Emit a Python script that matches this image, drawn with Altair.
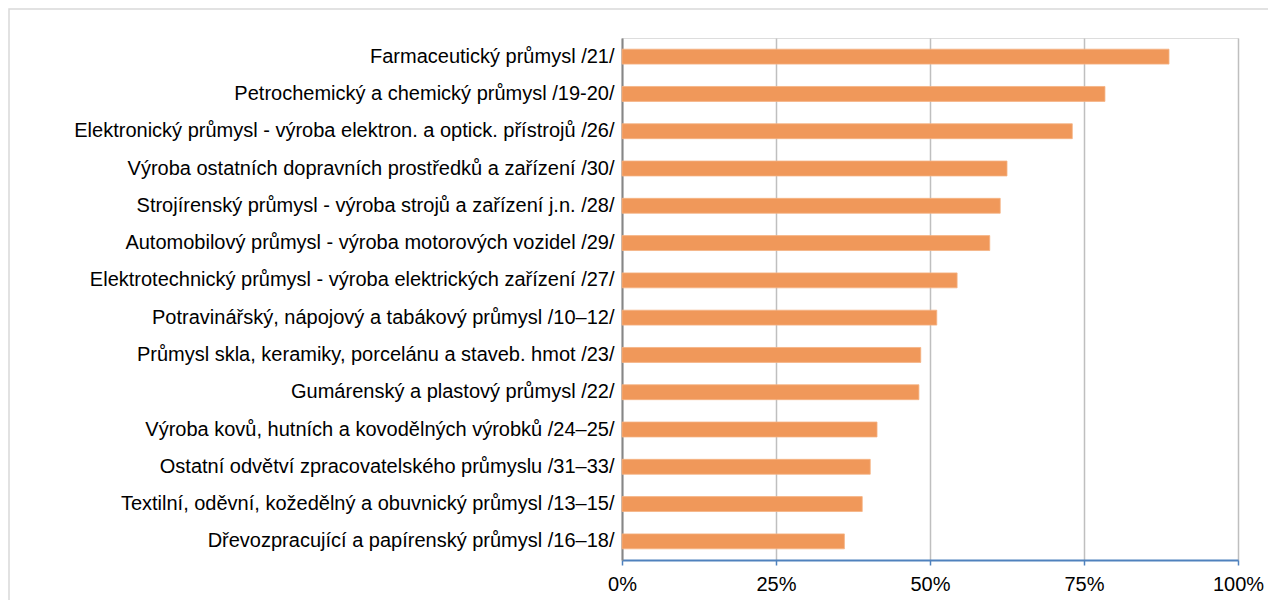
import altair as alt
import pandas as pd

categories = [
    "Farmaceutický průmysl /21/",
    "Petrochemický a chemický průmysl /19-20/",
    "Elektronický průmysl - výroba elektron. a optick. přístrojů /26/",
    "Výroba ostatních dopravních prostředků a zařízení /30/",
    "Strojírenský průmysl - výroba strojů a zařízení j.n. /28/",
    "Automobilový průmysl - výroba motorových vozidel /29/",
    "Elektrotechnický průmysl - výroba elektrických zařízení /27/",
    "Potravinářský, nápojový a tabákový průmysl /10–12/",
    "Průmysl skla, keramiky, porcelánu a staveb. hmot /23/",
    "Gumárenský a plastový průmysl /22/",
    "Výroba kovů, hutních a kovodělných výrobků /24–25/\u00a0",
    "Ostatní odvětví zpracovatelského průmyslu /31–33/",
    "Textilní, oděvní, kožedělný a obuvnický průmysl /13–15/",
    "Dřevozpracující a papírenský průmysl /16–18/",
]
values = [0.888, 0.784, 0.731, 0.625, 0.614, 0.597, 0.544, 0.511, 0.485, 0.482, 0.414, 0.403, 0.390, 0.361]
tick_values = [0, 0.25, 0.5, 0.75, 1.0]

df = pd.DataFrame({"odvetvi": categories, "podil": values})

FONT = "Liberation Sans"

bars = alt.Chart(df).mark_bar(color="#F0985A", stroke="#F5B383", strokeWidth=0.8).encode(
    x=alt.X(
        "podil:Q",
        scale=alt.Scale(domain=[0, 1], nice=False, zero=True),
        axis=alt.Axis(
            values=tick_values,
            format=".0%",
            title=None,
            grid=True,
            gridColor="#BFBFBF",
            gridWidth=1.5,
            domainColor="#4F81BD",
            domainWidth=2,
            tickColor="#4F81BD",
            tickWidth=1.5,
            tickSize=5,
            labelFont=FONT,
            labelFontSize=20,
            labelColor="#000000",
            labelPadding=9,
            labelFlush=False,
        ),
    ),
    y=alt.Y(
        "odvetvi:N",
        sort=categories,
        scale=alt.Scale(paddingInner=0.6, paddingOuter=0.3),
        axis=alt.Axis(
            title=None,
            ticks=False,
            domainColor="#868686",
            domainWidth=2,
            labelFont=FONT,
            labelFontSize=20,
            labelColor="#000000",
            labelPadding=8,
            labelLimit=700,
        ),
    ),
)

frame_df = pd.DataFrame({"k": [0]})
frame = alt.Chart(frame_df).mark_rect(fill=None, stroke="#D9D9D9", strokeWidth=1.5, clip=False).encode(
    x=alt.value(-613), x2=alt.value(670), y=alt.value(-29), y2=alt.value(600)
)

chart = alt.layer(frame, bars).properties(
    width=616,
    height=522,
    autosize=alt.AutoSizeParams(type="none"),
    padding={"left": 614, "top": 30, "right": 30, "bottom": 40},
).configure_view(
    stroke="#868686", strokeWidth=2
).configure(background="white")

chart.save("out.html", embed_options={"renderer": "svg", "actions": False})
